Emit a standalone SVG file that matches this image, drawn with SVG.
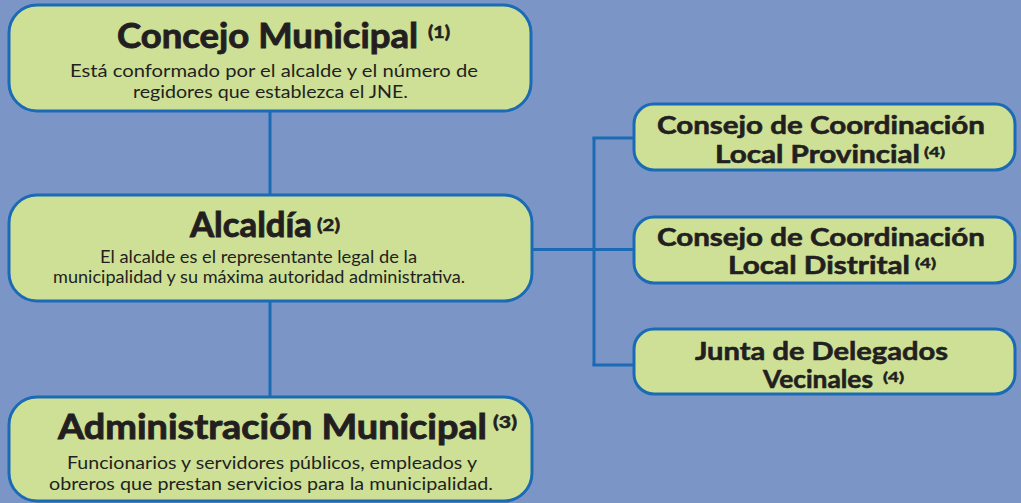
<svg xmlns="http://www.w3.org/2000/svg" width="1021" height="503" viewBox="0 0 1021 503">
<style>
.box{fill:#cde096;stroke:#1b6ab6;stroke-width:3}
.ln{stroke:#1b6ab6;stroke-width:3;fill:none}
text{font-family:Lato,"Open Sans","DejaVu Sans",sans-serif;fill:#231f20}
.t{font-size:34px;font-weight:bold;stroke:#231f20;stroke-width:0.9}
.s{font-size:18px}
.r{font-size:25px;font-weight:bold;stroke:#231f20;stroke-width:0.6}
.sup{font-size:17px;font-weight:bold;stroke:#231f20;stroke-width:0.6}
.sup2{font-size:14px;font-weight:bold;stroke:#231f20;stroke-width:0.5}
</style>
<rect width="1021" height="503" fill="#7b96c6"/>
<g id="connectors">
<line class="ln" x1="270" y1="111" x2="270" y2="195"/>
<line class="ln" x1="270" y1="301" x2="270" y2="397"/>
<line class="ln" x1="532" y1="249.5" x2="594" y2="249.5"/>
<line class="ln" x1="594" y1="137" x2="594" y2="366"/>
<line class="ln" x1="592.5" y1="138" x2="634" y2="138"/>
<line class="ln" x1="594" y1="249.5" x2="634" y2="249.5"/>
<line class="ln" x1="592.5" y1="365" x2="634" y2="365"/>
</g>
<g id="concejo">
<rect class="box" x="9" y="5" width="522" height="106" rx="28"/>
<text class="t" x="117" y="48" textLength="301" lengthAdjust="spacingAndGlyphs">Concejo Municipal</text>
<text class="sup" x="428" y="38" textLength="22" lengthAdjust="spacingAndGlyphs">(1)</text>
<text class="s" x="70" y="77" textLength="408" lengthAdjust="spacingAndGlyphs">Está conformado por el alcalde y el número de</text>
<text class="s" x="133" y="98" textLength="275" lengthAdjust="spacingAndGlyphs">regidores que establezca el JNE.</text>
</g>
<g id="alcaldia">
<rect class="box" x="9" y="195" width="523" height="106" rx="28"/>
<text class="t" x="190" y="237" textLength="122" lengthAdjust="spacingAndGlyphs">Alcaldía</text>
<text class="sup" x="317" y="231" textLength="23" lengthAdjust="spacingAndGlyphs">(2)</text>
<text class="s" x="100" y="263" textLength="317" lengthAdjust="spacingAndGlyphs">El alcalde es el representante legal de la</text>
<text class="s" x="53" y="283" textLength="412" lengthAdjust="spacingAndGlyphs">municipalidad y su máxima autoridad administrativa.</text>
</g>
<g id="administracion">
<rect class="box" x="9" y="397" width="523" height="104" rx="28"/>
<text class="t" x="58" y="439" textLength="429" lengthAdjust="spacingAndGlyphs">Administración Municipal</text>
<text class="sup" x="493" y="428" textLength="24" lengthAdjust="spacingAndGlyphs">(3)</text>
<text class="s" x="67" y="469" textLength="410" lengthAdjust="spacingAndGlyphs">Funcionarios y servidores públicos, empleados y</text>
<text class="s" x="49" y="490" textLength="444" lengthAdjust="spacingAndGlyphs">obreros que prestan servicios para la municipalidad.</text>
</g>
<g id="ccl-provincial">
<rect class="box" x="634" y="104" width="381" height="66" rx="20"/>
<text class="r" x="657" y="134" textLength="328" lengthAdjust="spacingAndGlyphs">Consejo de Coordinación</text>
<text class="r" x="715" y="163" textLength="205" lengthAdjust="spacingAndGlyphs">Local Provincial</text>
<text class="sup2" x="924" y="157" textLength="21" lengthAdjust="spacingAndGlyphs">(4)</text>
</g>
<g id="ccl-distrital">
<rect class="box" x="634" y="217" width="381" height="66" rx="20"/>
<text class="r" x="657" y="246" textLength="328" lengthAdjust="spacingAndGlyphs">Consejo de Coordinación</text>
<text class="r" x="728" y="274" textLength="182" lengthAdjust="spacingAndGlyphs">Local Distrital</text>
<text class="sup2" x="915" y="268" textLength="21" lengthAdjust="spacingAndGlyphs">(4)</text>
</g>
<g id="junta">
<rect class="box" x="634" y="329" width="381" height="65" rx="20"/>
<text class="r" x="695" y="360" textLength="253" lengthAdjust="spacingAndGlyphs">Junta de Delegados</text>
<text class="r" x="763" y="388" textLength="110" lengthAdjust="spacingAndGlyphs">Vecinales</text>
<text class="sup2" x="883" y="382" textLength="21" lengthAdjust="spacingAndGlyphs">(4)</text>
</g>
</svg>
